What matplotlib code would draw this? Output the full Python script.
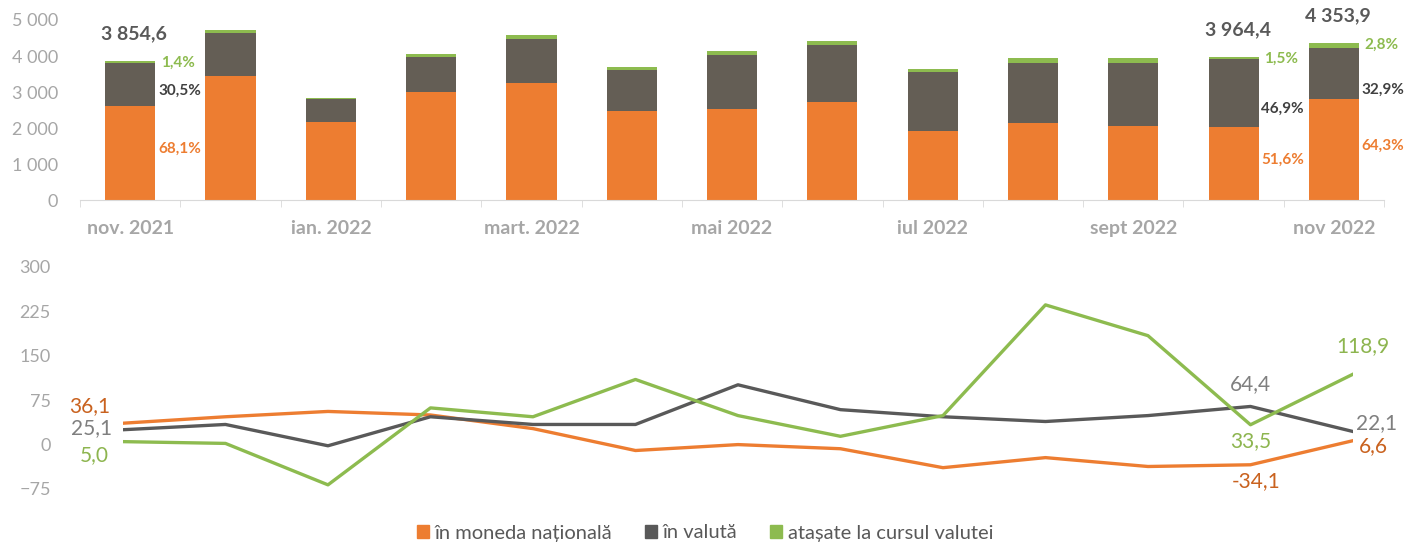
import matplotlib
matplotlib.use("Agg")
import matplotlib.pyplot as plt
from matplotlib.patches import Patch
from matplotlib.ticker import FuncFormatter
import numpy as np

plt.rcParams['font.family'] = ['Lato', 'DejaVu Sans']

# data
months = ['nov. 2021', 'dec. 2021', 'ian. 2022', 'feb. 2022', 'mart. 2022', 'apr. 2022',
          'mai 2022', 'iun. 2022', 'iul 2022', 'aug. 2022', 'sept 2022', 'oct. 2022', 'nov 2022']
shown_ticks = [0, 2, 4, 6, 8, 10, 12]

mdl = [2625, 3460, 2175, 3010, 3260, 2470, 2520, 2720, 1930, 2150, 2050, 2046, 2800]
valuta = [1176, 1190, 640, 965, 1225, 1135, 1505, 1590, 1640, 1670, 1770, 1859, 1432]
atasate = [54, 75, 30, 75, 90, 85, 120, 95, 85, 120, 120, 59, 122]

totals_shown = {0: '3 854,6', 11: '3 964,4', 12: '4 353,9'}
pct_mdl = {0: '68,1%', 11: '51,6%', 12: '64,3%'}
pct_val = {0: '30,5%', 11: '46,9%', 12: '32,9%'}
pct_ata = {0: '1,4%', 11: '1,5%', 12: '2,8%'}

ch_mdl = [36.1, 47, 56, 50, 27, -10, 0, -7, -39, -22, -37, -34.1, 6.6]
ch_val = [25.1, 34, -2, 47, 34, 34, 101, 59, 47, 39, 49, 64.4, 22.1]
ch_ata = [5.0, 2, -68, 62, 47, 110, 49, 14, 49, 236, 184, 33.5, 118.9]

legend_labels = ['în moneda națională', 'în valută', 'atașate la cursul valutei']

# colours
c_or = '#ED7D31'
c_gr = '#645E55'
c_gn = '#8DBB4F'
c_line_gr = '#595959'
c_tick = '#A6A6A6'

fig = plt.figure(figsize=(14.07, 5.42), dpi=100)

# ---- top: stacked bars ----
ax1 = fig.add_axes([0.0569, 0.6304, 0.9268, 0.3327])
x = np.arange(len(months))
mdl_a = np.array(mdl)
val_a = np.array(valuta)
ata_a = np.array(atasate)
ax1.bar(x, mdl_a, 0.5, color=c_or)
ax1.bar(x, val_a, 0.5, bottom=mdl_a, color=c_gr)
ax1.bar(x, ata_a, 0.5, bottom=mdl_a + val_a, color=c_gn)
tot = mdl_a + val_a + ata_a

ax1.set_xlim(-0.5, 12.5)
ax1.set_ylim(0, 5000)
ax1.set_yticks(range(0, 5001, 1000))
ax1.yaxis.set_major_formatter(FuncFormatter(lambda v, p: f'{int(v):,}'.replace(',', ' ')))
ax1.set_xticks(shown_ticks)
ax1.set_xticklabels([months[i] for i in shown_ticks], fontweight='bold')
ax1.set_xticks(np.arange(-0.5, 13, 1), minor=True)
ax1.tick_params(axis='x', which='major', length=0, pad=14, labelsize=14, colors=c_tick)
ax1.tick_params(axis='x', which='minor', length=5, color='#D9D9D9')
ax1.tick_params(axis='y', length=0, pad=16, labelsize=13, colors=c_tick)
for s in ['top', 'right', 'left']:
    ax1.spines[s].set_visible(False)
ax1.spines['bottom'].set_color('#D9D9D9')

# value labels
grey_lab_y = {0: 3030, 11: 2540, 12: 3075}
for i, txt in totals_shown.items():
    ax1.annotate(txt, (i, tot[i]), xytext=(3, 20), textcoords='offset points',
                 ha='center', va='center', fontsize=14, fontweight='bold', color='#595959')
    ax1.annotate(pct_ata[i], (i + 0.25, tot[i] - 30), xytext=(4, 0), textcoords='offset points',
                 ha='left', va='center', fontsize=11, fontweight='bold', color=c_gn)
    ax1.annotate(pct_val[i], (i + 0.25, grey_lab_y[i]), xytext=(2, 0), textcoords='offset points',
                 ha='left', va='center', fontsize=11, fontweight='bold', color='#404040')
    ax1.annotate(pct_mdl[i], (i + 0.25, mdl_a[i] * 0.52 + 60), xytext=(2, 0), textcoords='offset points',
                 ha='left', va='center', fontsize=11, fontweight='bold', color=c_or)

# ---- bottom: lines ----
ax2 = fig.add_axes([0.0874, 0.0978, 0.8742, 0.4096])
ax2.plot(x, ch_mdl, color=c_or, lw=2.4, solid_joinstyle='round')
ax2.plot(x, ch_val, color=c_line_gr, lw=2.4, solid_joinstyle='round')
ax2.plot(x, ch_ata, color=c_gn, lw=2.4, solid_joinstyle='round')
ax2.set_xlim(0, 12)
ax2.set_ylim(-75, 300)
ax2.set_yticks([-75, 0, 75, 150, 225, 300])
ax2.set_xticks([])
ax2.tick_params(axis='y', length=0, pad=52, labelsize=13, colors=c_tick)
for s in ax2.spines.values():
    s.set_visible(False)

def lab(ax, i, vals, color, dx, dy, ha):
    ax.annotate(f'{vals[i]:.1f}'.replace('.', ','), (i, vals[i]), xytext=(dx, dy),
                textcoords='offset points', ha=ha, va='center', fontsize=15, color=color,
                annotation_clip=False)

lab(ax2, 0, ch_mdl, '#C9621F', -9, 12, 'right')
lab(ax2, 0, ch_val, '#7F7F7F', -8, 1, 'right')
lab(ax2, 0, ch_ata, '#8DB54F', -10, -10, 'right')
lab(ax2, 11, ch_val, '#7F7F7F', 0, 16, 'center')
lab(ax2, 11, ch_ata, '#8DB54F', 0, -12, 'center')
lab(ax2, 11, ch_mdl, '#C9621F', 4, -12, 'center')
lab(ax2, 12, ch_ata, '#8DB54F', 7, 20, 'center')
lab(ax2, 12, ch_val, '#7F7F7F', 2, 6, 'left')
lab(ax2, 12, ch_mdl, '#C9621F', 4, -4, 'left')

handles = [Patch(color=c) for c in (c_or, c_line_gr, c_gn)]
leg = fig.legend(handles, legend_labels, loc='center', bbox_to_anchor=(705 / 1407, 1 - 533 / 542),
                 ncol=3, frameon=False, handlelength=0.6, handleheight=0.6, handletextpad=0.3,
                 columnspacing=1.6, fontsize=14.5, borderpad=0.1)
for t in leg.get_texts():
    t.set_color('#595959')

fig.savefig('out.png', dpi=100)
